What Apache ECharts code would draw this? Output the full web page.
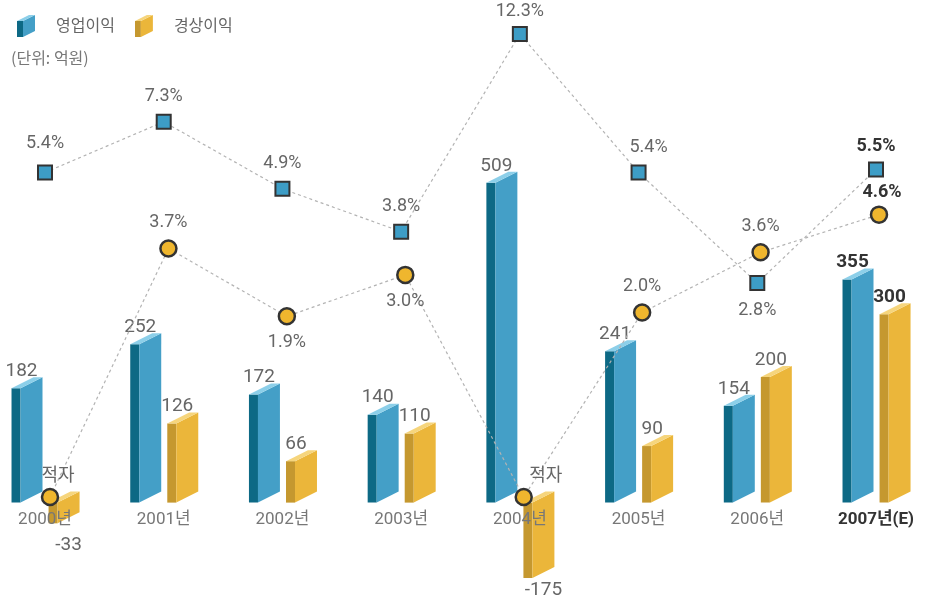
<!DOCTYPE html>
<html><head><meta charset="utf-8">
<script src="https://cdn.jsdelivr.net/npm/echarts@6/dist/echarts.min.js"></script>
<style>html,body{margin:0;padding:0;background:#fff}#c{width:931px;height:601px}</style>
</head><body><div id="c"></div>
<script>
const categories = ['2000년','2001년','2002년','2003년','2004년','2005년','2006년','2007년(E)'];
const operatingProfit = [182, 252, 172, 140, 509, 241, 154, 355];      // 영업이익 (억원)
const ordinaryProfit  = [-33, 126, 66, 110, -175, 90, 200, 300];        // 경상이익 (억원)
const operatingMargin = [5.4, 7.3, 4.9, 3.8, 12.3, 5.4, 2.8, 5.5];      // 영업이익률 (%)
const ordinaryMargin  = [-2.9, 3.7, 1.9, 3.0, -2.9, 2.0, 3.6, 4.6];     // 경상이익률 (%), 적자 years estimated
const legendNames = ['영업이익', '경상이익'];
const unitText = '(단위: 억원)';
const deficitText = '적자';

const NUM_FONT = 'Roboto, "Noto Sans CJK KR", sans-serif';
const KR_FONT = '"Noto Sans CJK KR", sans-serif';
const LAST = categories.length - 1;

const BLUE = {front:'#0d6985', side:'#449fc7', top:'#8ccfe9'};
const YELLOW = {front:'#c5982f', side:'#ebb63a', top:'#f6d57c'};

function iconSvg(c){
  const s = "<svg xmlns='http://www.w3.org/2000/svg' width='34' height='24' viewBox='0 0 34 24'>" +
    "<polygon points='0,8 6,8 6,24 0,24' fill='" + c.front + "'/>" +
    "<polygon points='6,8 18,2 18,18 6,24' fill='" + c.side + "'/>" +
    "<polygon points='0,8 6,8 18,2 12,2' fill='" + c.top + "'/></svg>";
  return 'image://data:image/svg+xml;charset=utf-8,' + encodeURIComponent(s);
}

function barSeries(name, values, offsetFrac, col){
  return {
    type: 'custom', name: name, xAxisIndex: 0, yAxisIndex: 0, z: 2,
    data: values.map((v, i) => [i, v]),
    encode: {x: 0, y: 1},
    itemStyle: {color: col.side},
    renderItem: function(params, api){
      const i = api.value(0), v = api.value(1);
      const cs = params.coordSys;
      const bottomLimit = cs.y + cs.height;
      const c0 = api.coord([i, 0]);
      const c1 = api.coord([i, v]);
      const bw = api.coord([1, 0])[0] - api.coord([0, 0])[0];
      const x0 = c0[0] + offsetFrac * bw;
      const f = bw * 0.076, s = bw * 0.185, d = 11;
      const T = Math.min(c0[1], c1[1]);
      const B = Math.min(Math.max(c0[1], c1[1]), bottomLimit);
      const bold = i === LAST;
      let lx, ly;
      if (v >= 0) { lx = x0 + 10; ly = T - 17; }
      else { lx = x0 + 20; ly = Math.min(B + 22, bottomLimit + 12); }
      return {
        type: 'group',
        children: [
          {type:'polygon', shape:{points:[[x0,T],[x0+f,T],[x0+f,B],[x0,B]]}, style:{fill:col.front}},
          {type:'polygon', shape:{points:[[x0+f,T],[x0+f+s,T-d],[x0+f+s,B-d],[x0+f,B]]}, style:{fill:col.side}},
          {type:'polygon', shape:{points:[[x0,T],[x0+f,T],[x0+f+s,T-d],[x0+s,T-d]]}, style:{fill:col.top}},
          {type:'text', style:{text: String(v), x: lx, y: ly, align:'center', verticalAlign:'middle',
            fill: bold ? '#333' : '#666', fontSize: 19, fontFamily: NUM_FONT, fontWeight: bold ? 'bold' : 'normal'}}
        ]
      };
    }
  };
}

const sqLabelCfg = [
  {position:'top', distance:12}, {position:'top', distance:8}, {position:'top', distance:8},
  {position:'top', distance:8}, {position:'top', distance:6}, {position:'top', distance:8, offset:[10,0]},
  {position:'bottom', distance:10}, {position:'top', distance:6}
];
const ciLabelCfg = [
  {position:'top', distance:2, offset:[8,0]}, {position:'top', distance:8}, {position:'bottom', distance:8},
  {position:'bottom', distance:8}, {position:'top', distance:2, offset:[22,0]}, {position:'top', distance:8},
  {position:'top', distance:8}, {position:'top', distance:4, offset:[3,0]}
];

function marginData(values, cfg){
  return values.map((v, i) => {
    const bold = i === LAST;
    return {value: v, label: Object.assign({}, cfg[i], bold ? {fontWeight:'bold', color:'#333'} : {})};
  });
}

const lineStyle = {color:'#b3b3b3', width:1.2, type:[3,3]};

const option = {
  animation: false,
  backgroundColor: '#fff',
  title: {text: unitText, left: 6, top: 45, textStyle: {fontSize: 16, fontWeight: 'normal', color: '#777', fontFamily: KR_FONT}},
  legend: {
    left: 12, top: 8, itemWidth: 34, itemHeight: 24, itemGap: 20,
    textStyle: {fontSize: 16, color: '#666', fontFamily: KR_FONT},
    data: [{name: legendNames[0], icon: iconSvg(BLUE)}, {name: legendNames[1], icon: iconSvg(YELLOW)}],
    selectedMode: false
  },
  grid: [
    {left: 45, right: 55, top: 0, bottom: 23},
    {left: 50, right: 52, top: 0, bottom: 23}
  ],
  xAxis: [
    {type:'category', gridIndex:0, boundaryGap:false, offset:-75, z:3,
     data: categories.map((c, i) => i === LAST ? {value:c, textStyle:{fontWeight:'bold', color:'#333'}} : c),
     axisLine:{show:false}, axisTick:{show:false}, splitLine:{show:false},
     axisLabel:{fontSize:17, color:'#777', fontFamily: NUM_FONT, interval:0}},
    {type:'category', gridIndex:1, boundaryGap:false, data: categories, show:false}
  ],
  yAxis: [
    {type:'value', gridIndex:0, min:-120, max:800, show:false},
    {type:'log', gridIndex:0, logBase:10, min:0.4848, max:15.06, show:false},
    {type:'value', gridIndex:1, min:-5.05, max:10.3, show:false}
  ],
  series: [
    barSeries(legendNames[0], operatingProfit, -0.282, BLUE),
    barSeries(legendNames[1], ordinaryProfit, 0.03, YELLOW),
    {
      type:'line', name:'영업이익률', xAxisIndex:0, yAxisIndex:1, z:5,
      data: marginData(operatingMargin, sqLabelCfg),
      symbol:'rect', symbolSize:14,
      itemStyle:{color:'#3d9dc6', borderColor:'#333', borderWidth:2},
      lineStyle: lineStyle,
      label:{show:true, formatter: p => p.value.toFixed(1) + '%', fontSize:18, color:'#666', fontFamily: NUM_FONT},
      emphasis:{disabled:true}
    },
    {
      type:'line', name:'경상이익률', xAxisIndex:1, yAxisIndex:2, z:5,
      data: marginData(ordinaryMargin, ciLabelCfg),
      symbol:'circle', symbolSize:16,
      itemStyle:{color:'#efb62e', borderColor:'#333', borderWidth:2.5},
      lineStyle: lineStyle,
      label:{show:true, formatter: p => p.value < 0 ? deficitText : p.value.toFixed(1) + '%', fontSize:18, color:'#666', fontFamily: NUM_FONT},
      emphasis:{disabled:true}
    }
  ]
};
const chart = echarts.init(document.getElementById('c'), null, {renderer:'canvas'});
chart.setOption(option);
</script></body></html>
